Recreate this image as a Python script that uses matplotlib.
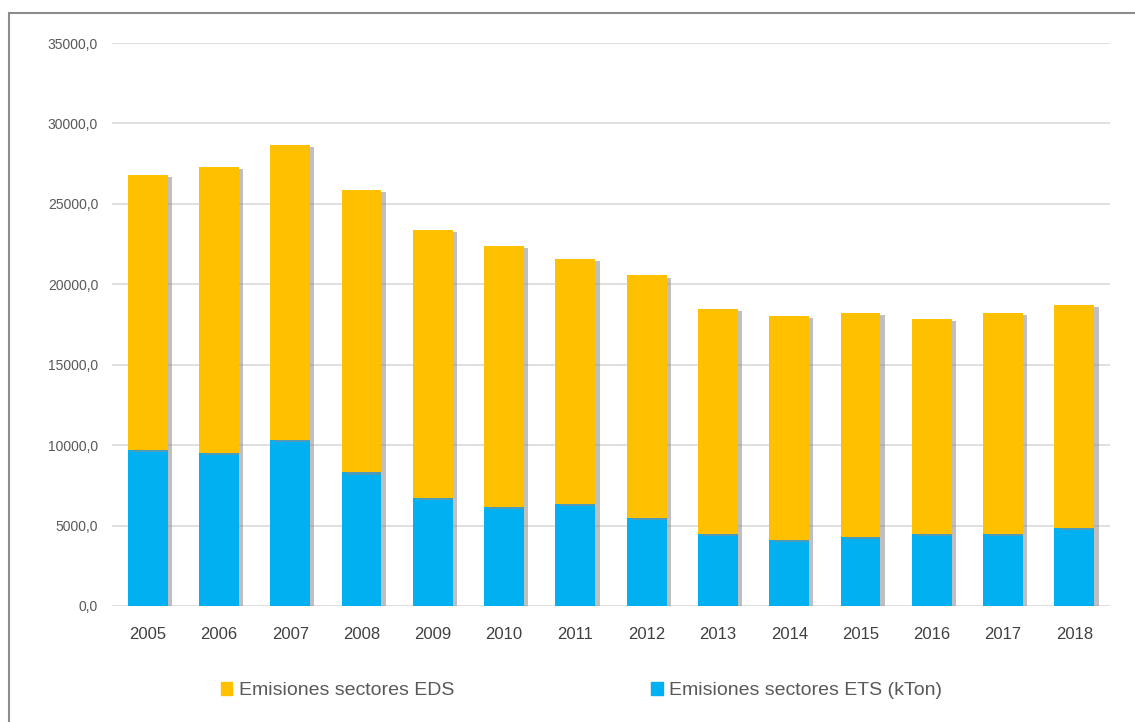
import matplotlib.pyplot as plt
import matplotlib.patheffects as pe
from matplotlib.patches import Rectangle, Patch
from matplotlib.ticker import FuncFormatter

plt.rcParams['font.family'] = ['Liberation Sans', 'DejaVu Sans']

years = ['2005', '2006', '2007', '2008', '2009', '2010', '2011',
         '2012', '2013', '2014', '2015', '2016', '2017', '2018']
ets = [9700, 9500, 10300, 8300, 6700, 6150, 6350,
       5450, 4450, 4100, 4300, 4450, 4450, 4850]
total = [26800, 27300, 28650, 25850, 23400, 22400, 21550,
         20550, 18450, 18050, 18200, 17850, 18200, 18700]
eds = [t - e for t, e in zip(total, ets)]

BLUE = '#00b0f0'
ORANGE = '#ffc000'
GREY_TXT = '#595959'

fig = plt.figure(figsize=(11.35, 7.22), dpi=100)
ax = fig.add_axes([0.0987, 0.1607, 0.8793, 0.7797])

shadow = [pe.SimplePatchShadow(offset=(3, -1.5), shadow_rgbFace='#8c8c8c', alpha=0.55), pe.Normal()]
x = range(len(years))
b1 = ax.bar(x, ets, width=0.56, color=BLUE, zorder=3)
b2 = ax.bar(x, eds, bottom=ets, width=0.56, color=ORANGE, zorder=3)
for bar in list(b1) + list(b2):
    bar.set_path_effects(shadow)

ax.set_ylim(0, 35000)
ax.set_xlim(-0.5, 13.5)
ax.set_yticks(range(0, 35001, 5000))
ax.yaxis.set_major_formatter(FuncFormatter(lambda v, p: f'{v:.1f}'.replace('.', ',')))
ax.set_xticks(list(x))
ax.set_xticklabels(years)
ax.grid(axis='y', color='#d9d9d9', linewidth=1.2, zorder=0)
for s in ax.spines.values():
    s.set_visible(False)
ax.tick_params(axis='both', length=0, colors=GREY_TXT)
ax.tick_params(axis='y', labelsize=10, pad=10)
ax.tick_params(axis='x', labelsize=12, pad=15, labelcolor='#404040')

handles = [Patch(color=ORANGE, label='Emisiones sectores EDS'),
           Patch(color=BLUE, label='Emisiones sectores ETS (kTon)')]
fig.legend(handles=handles, loc='center left', bbox_to_anchor=(0.179, 0.043),
           ncol=2, frameon=False, fontsize=14, handlelength=0.6, handleheight=0.6,
           handletextpad=0.35, columnspacing=10.1, labelcolor=GREY_TXT)

# outer frame of the original screenshot
fig.patches.append(Rectangle((9 / 1135, -0.1), 1.2, 1.1 - 13 / 722,
                             transform=fig.transFigure, fill=False,
                             edgecolor='#8c8c8c', linewidth=1.5))

fig.savefig('out.png', dpi=100)
